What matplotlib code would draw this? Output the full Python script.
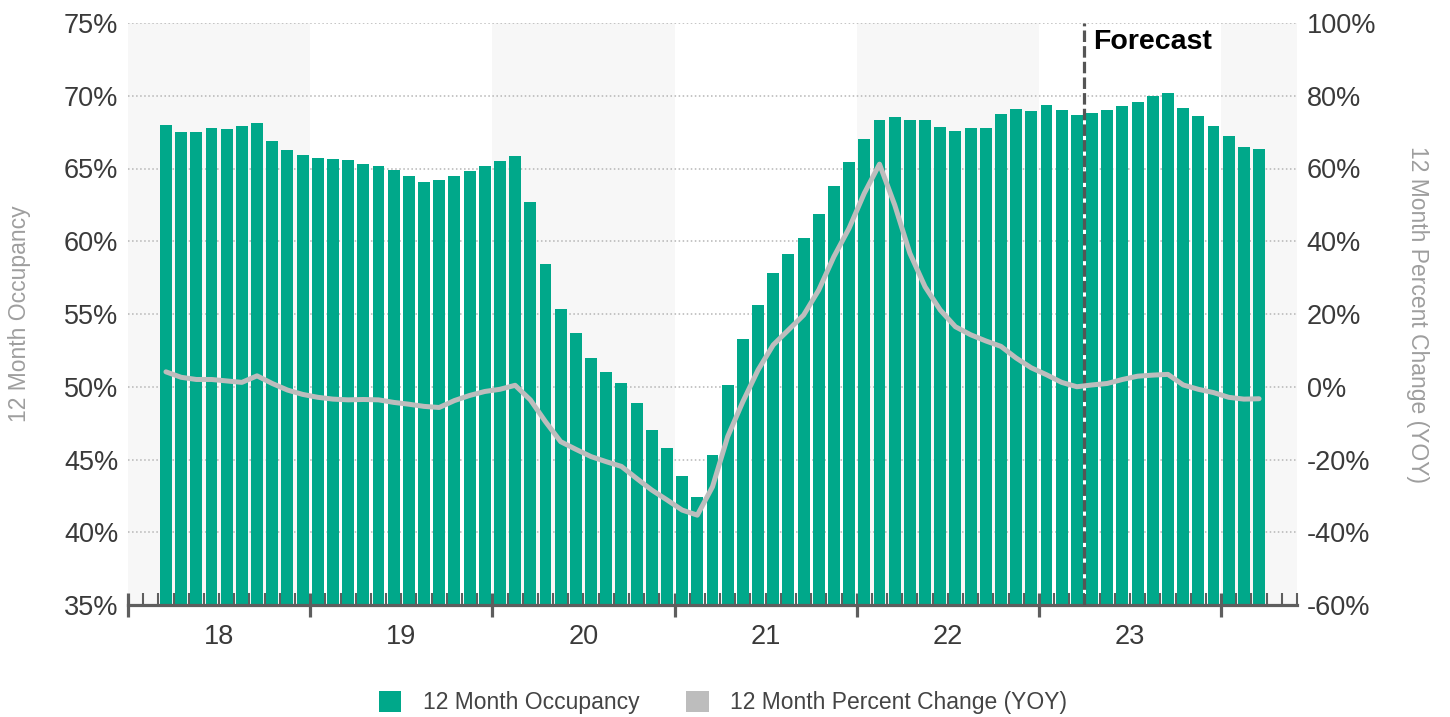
import numpy as np
import matplotlib
matplotlib.use("Agg")
import matplotlib.pyplot as plt
from matplotlib.patches import Patch

plt.rcParams['font.family'] = ['Liberation Sans', 'DejaVu Sans']

# months: Mar 2018 .. Mar 2024
YEAR_LABELS = ['18', '19', '20', '21', '22', '23']
FIRST_MONTH = 2          # March 2018, counted from Jan 2018
N_SLOTS = 77             # Jan 2018 .. May 2024 on the axis
FORECAST_START = 63      # April 2023

occupancy = [
    68.0, 67.5, 67.5, 67.8, 67.7, 67.9, 68.1, 66.9, 66.3, 65.9,
    65.7, 65.65, 65.6, 65.3, 65.15, 64.9, 64.5, 64.1, 64.2, 64.5, 64.85, 65.2,
    65.5, 65.85, 62.7, 58.45, 55.35, 53.7, 52.0, 51.0, 50.25, 48.9, 47.0, 45.8,
    43.9, 42.4, 45.3, 50.1, 53.25, 55.6, 57.85, 59.1, 60.2, 61.85, 63.8, 65.45,
    67.05, 68.35, 68.55, 68.35, 68.3, 67.85, 67.55, 67.75, 67.75, 68.75, 69.1, 68.95,
    69.35, 69.05, 68.65, 68.8, 69.0, 69.3, 69.6, 69.95, 70.2, 69.15, 68.6, 67.95,
    67.25, 66.5, 66.35,
]

pct_change = [
    4.1, 2.6, 2.0, 2.0, 1.6, 1.2, 3.0, 0.9, -0.9, -2.1,
    -2.9, -3.4, -3.6, -3.5, -3.6, -4.3, -4.8, -5.4, -5.7, -3.8, -2.4, -1.3,
    -0.7, 0.4, -3.6, -9.6, -15.1, -17.2, -19.2, -20.6, -21.9, -25.2, -28.4, -31.1,
    -33.9, -35.3, -27.5, -13.7, -4.1, 4.6, 11.5, 15.6, 19.7, 26.6, 35.8, 43.6,
    53.2, 61.2, 50.0, 36.7, 27.5, 21.1, 16.5, 14.3, 12.6, 11.1, 7.9, 5.2,
    3.3, 1.2, 0.0, 0.5, 0.9, 2.0, 2.9, 3.2, 3.4, 0.5, -0.7, -1.6,
    -2.9, -3.4, -3.3,
]

TEAL = '#00A88A'
LINE_GRAY = '#BDBDBD'
TEXT = '#3A3A3A'
AXIS_GRAY = '#5E5E5E'

fig = plt.figure(figsize=(14.5, 7.17), dpi=100)
ax = fig.add_axes([128 / 1450, 1 - 605 / 717, 1169 / 1450, 582 / 717])
ax2 = ax.twinx()

x = FIRST_MONTH + np.arange(len(occupancy)) + 0.5

# alternating year shading
for start in range(0, N_SLOTS, 24):
    ax.axvspan(start, min(start + 12, N_SLOTS), color='#F7F7F7', zorder=0, lw=0)

ax.bar(x, occupancy, width=0.79, color=TEAL, zorder=2)
ax.set_ylim(35, 75)
ax.set_xlim(0, N_SLOTS)
ax.set_yticks(np.arange(35, 76, 5))
ax.set_yticklabels([f'{v}%' for v in range(35, 76, 5)])
ax.yaxis.grid(True, linestyle=':', color='#B5B5B5', lw=1.1, zorder=1)
ax.set_axisbelow(True)

ax2.plot(x, pct_change, color=LINE_GRAY, lw=3.6, solid_joinstyle='round',
         solid_capstyle='round', zorder=3)
ax2.set_ylim(-60, 100)
ax2.set_yticks(np.arange(-60, 101, 20))
ax2.set_yticklabels([f'{v}%' for v in range(-60, 101, 20)])

ax.axvline(FORECAST_START, color='#555555', lw=2.3, linestyle=(0, (3.6, 1.3)), zorder=5)
ax.text(FORECAST_START + 0.55, 74.6, 'Forecast', fontsize=20.5, fontweight='bold',
        color='black', ha='left', va='top', zorder=6)

for a in (ax, ax2):
    for s in ('top', 'left', 'right'):
        a.spines[s].set_visible(False)
    a.tick_params(axis='y', length=0, labelsize=19.5, labelcolor=TEXT, pad=7)
ax2.spines['bottom'].set_visible(False)
ax.spines['bottom'].set_color(AXIS_GRAY)
ax.spines['bottom'].set_linewidth(2.3)

ax.set_xticks(np.arange(0, N_SLOTS, 12))
ax.set_xticks(np.arange(0, N_SLOTS + 1), minor=True)
ax.tick_params(axis='x', which='major', direction='inout', length=17, width=2.3,
               color=AXIS_GRAY, labelbottom=False)
ax.tick_params(axis='x', which='minor', direction='in', length=8.5, width=1.5,
               color=AXIS_GRAY)

for k, yr in enumerate(YEAR_LABELS):
    ax.text(12 * k + 6, -0.055, yr, transform=ax.get_xaxis_transform(),
            ha='center', va='center', fontsize=19.5, color=TEXT)

ax.set_ylabel('12 Month Occupancy', fontsize=16.5, color='#9E9E9E', va='center')
ax.yaxis.set_label_coords(-0.0924, 0.5)
ax2.set_ylabel('12 Month Percent Change (YOY)', fontsize=16.5, color='#9E9E9E',
               rotation=270, va='center')
ax2.yaxis.set_label_coords(1.1035, 0.5)

handles = [Patch(facecolor=TEAL, edgecolor='none'), Patch(facecolor=LINE_GRAY, edgecolor='none')]
fig.legend(handles, ['12 Month Occupancy', '12 Month Percent Change (YOY)'],
           loc='center', bbox_to_anchor=(0.4986, 0.02), ncol=2, frameon=False,
           fontsize=16.5, handlelength=1.0, handleheight=1.0, handletextpad=0.95,
           columnspacing=2.0, labelcolor='#444444')

fig.savefig('out.png', dpi=100)
